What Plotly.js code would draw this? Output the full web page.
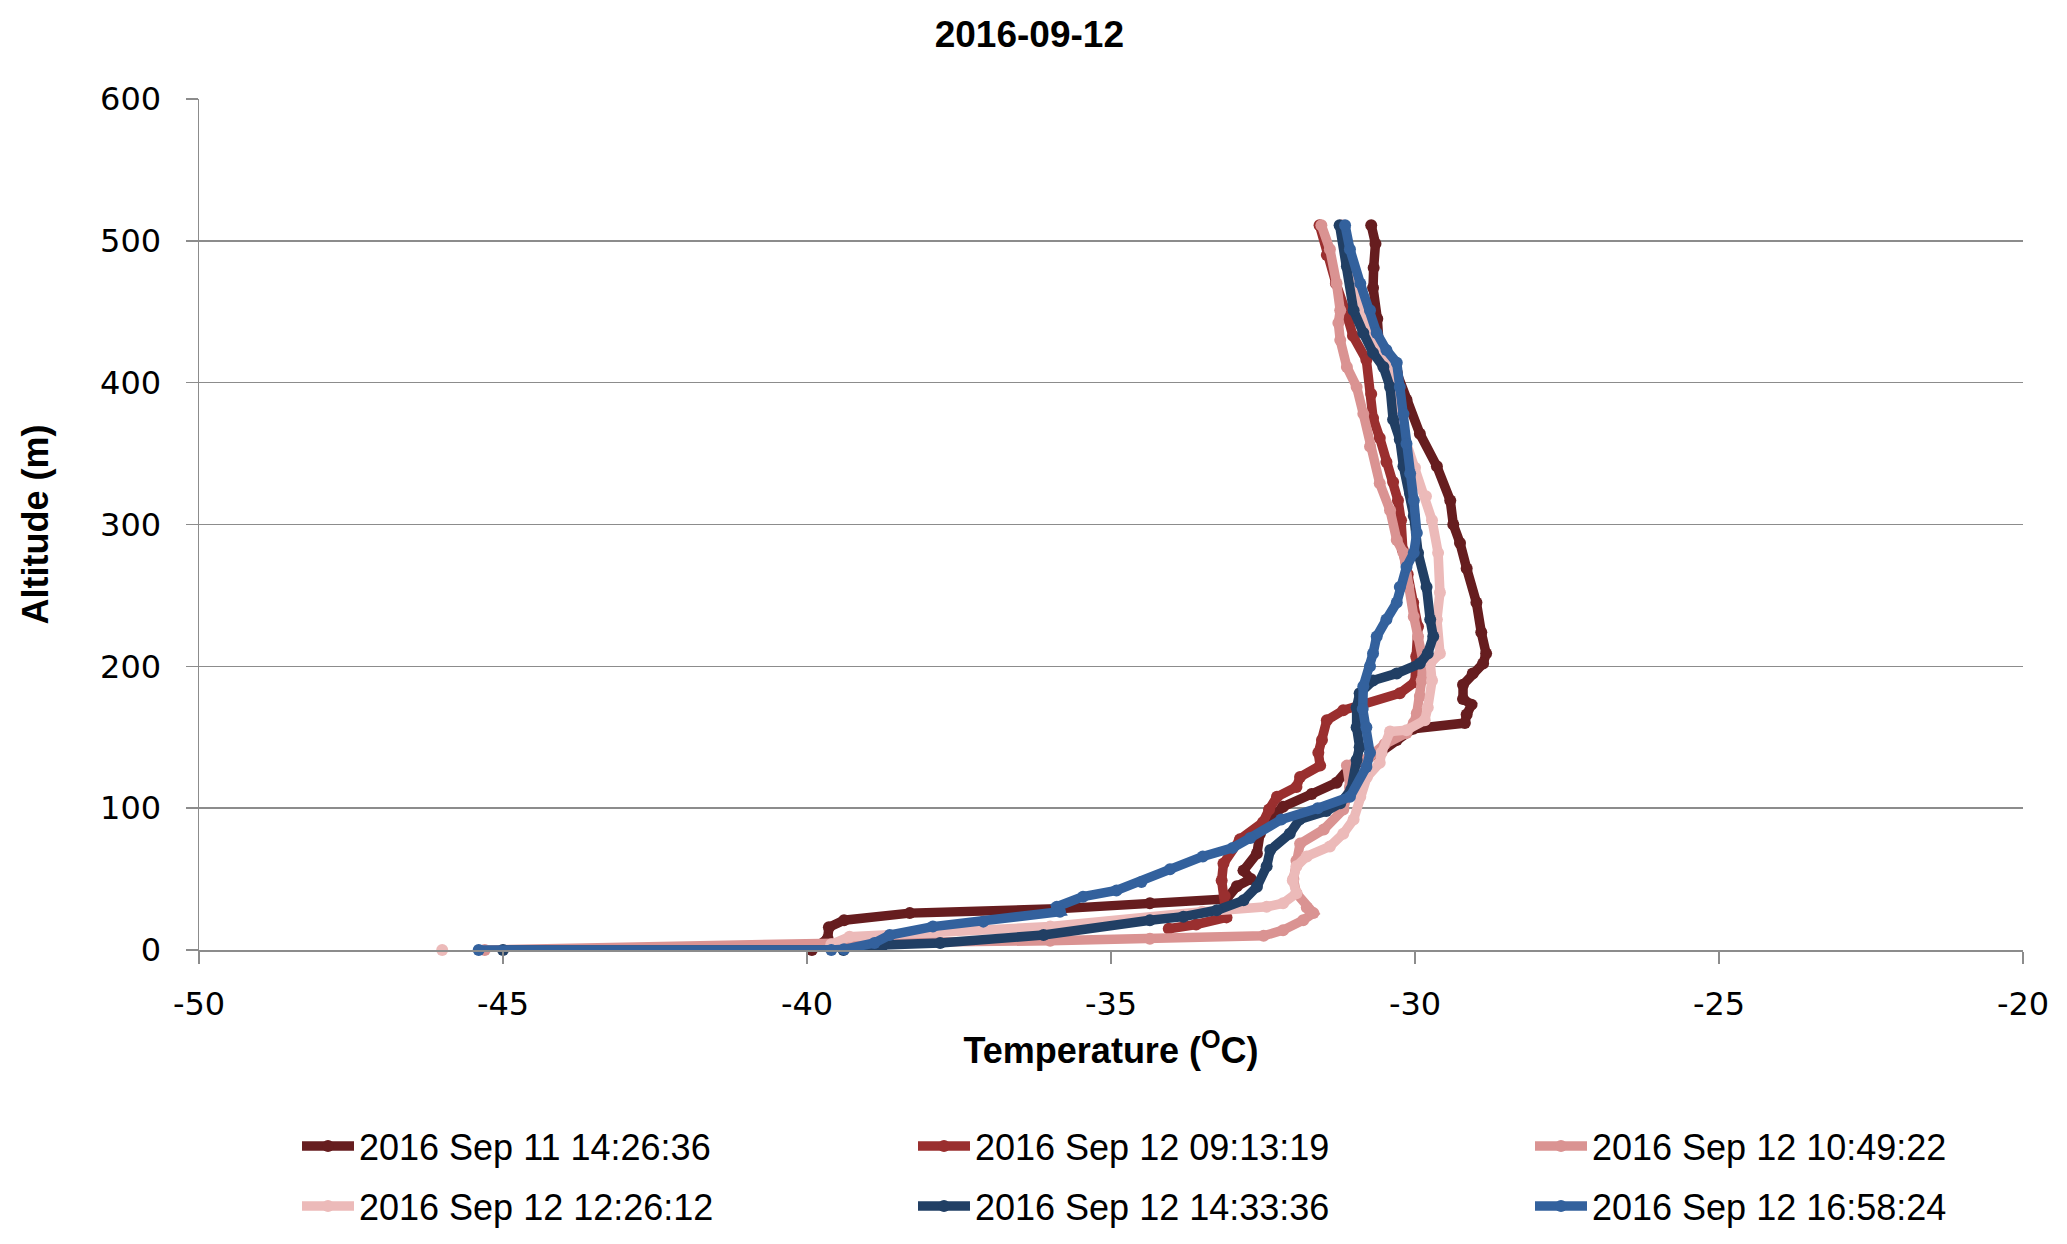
<!DOCTYPE html>
<html>
<head>
<meta charset="utf-8">
<script src="https://cdn.plot.ly/plotly-3.0.1.min.js"></script>
<style>html,body{margin:0;padding:0;background:#fff;}#chart{width:2067px;height:1244px;}</style>
</head>
<body>
<div id="chart"></div>
<script>
// ---- data (temperature °C, altitude m) ----
const seriesNames = ["2016 Sep 11 14:26:36","2016 Sep 12 09:13:19","2016 Sep 12 10:49:22","2016 Sep 12 12:26:12","2016 Sep 12 14:33:36","2016 Sep 12 16:58:24"];

const s1Temp = [-30.72,-30.65,-30.68,-30.69,-30.62,-30.58,-30.30,-30.14,-29.92,-29.64,-29.42,-29.37,-29.26,-29.15,-28.99,-28.91,-28.83,-28.88,-29.05,-29.21,-29.21,-29.07,-29.15,-29.18,-30.03,-30.30,-30.55,-31.07,-31.29,-31.70,-32.17,-32.40,-32.55,-32.60,-32.82,-32.70,-32.93,-33.10,-34.36,-35.89,-38.31,-39.39,-39.64,-39.66,-39.92];
const s1Alt  = [511,498,481,467,445,421,407,388,364,341,317,300,287,269,245,224,209,202,195,187,177,173,166,160,156,148,140,129,118,110,101,92,82,68,56,50,45,36,33,29,26,21,16,8,0];

const s2Temp = [-31.57,-31.45,-31.30,-31.10,-31.02,-30.80,-30.72,-30.69,-30.58,-30.47,-30.36,-30.28,-30.23,-30.20,-30.12,-30.03,-29.95,-29.98,-30.00,-30.25,-30.85,-31.18,-31.45,-31.53,-31.59,-31.56,-31.89,-31.95,-32.27,-32.40,-32.50,-32.88,-33.15,-33.18,-33.13,-33.10,-33.60,-34.05];
const s2Alt  = [511,490,470,445,433,416,392,375,361,344,330,317,303,282,265,245,228,207,189,181,174,169,162,148,139,130,122,115,108,99,90,78,61,49,38,23,18,15];

const s3Temp = [-31.54,-31.40,-31.29,-31.23,-31.26,-31.23,-31.12,-30.96,-30.85,-30.74,-30.58,-30.41,-30.30,-30.19,-30.11,-30.02,-29.95,-29.87,-29.89,-29.92,-29.97,-30.02,-30.14,-30.50,-30.75,-31.12,-31.07,-31.18,-31.50,-31.89,-31.95,-32.00,-31.95,-31.78,-31.67,-31.84,-32.17,-32.49,-34.36,-36.00,-39.30,-45.30];
const s3Alt  = [511,494,470,451,442,430,411,397,378,355,329,310,289,280,256,235,221,204,190,179,167,160,153,145,136,130,115,99,85,75,63,50,40,30,26,21,14,10,8,6.5,5,0];

const s4Temp = [-31.20,-31.10,-30.95,-30.75,-30.45,-30.20,-30.00,-29.82,-29.72,-29.62,-29.59,-29.64,-29.59,-29.75,-29.72,-29.79,-29.84,-30.14,-30.41,-30.55,-30.58,-30.79,-30.90,-31.01,-31.18,-31.40,-31.78,-31.95,-32.01,-31.95,-32.17,-32.44,-33.50,-36.00,-39.30,-39.60,null,-46.00];
const s4Alt  = [511,490,465,440,415,365,340,320,303,280,252,233,209,202,190,171,162,155,154,139,132,122,108,92,82,73,66,59,49,40,33,30.5,27,16.5,9.4,4,null,0];

const s5Temp = [-31.24,-31.12,-31.01,-30.85,-30.69,-30.52,-30.41,-30.36,-30.25,-30.19,-30.08,-30.02,-29.95,-29.81,-29.75,-29.70,-29.79,-29.92,-30.30,-30.69,-30.91,-30.96,-30.96,-30.91,-30.96,-31.05,-31.23,-31.46,-31.90,-32.06,-32.38,-32.44,-32.60,-32.82,-33.26,-33.81,-34.36,-36.11,-37.81,-38.75,-39.40,-45.00];
const s5Alt  = [511,482,451,435,421,411,397,374,360,341,322,306,280,256,233,221,209,202,195,190,181,171,157,143,134,113,103.5,98,92,82,70.5,59,44.6,35,28,23.5,21,10.6,4.9,3.5,0,0];

const s6Temp = [-31.15,-31.07,-30.90,-30.74,-30.63,-30.47,-30.30,-30.25,-30.19,-30.14,-30.08,-30.02,-29.97,-30.02,-30.14,-30.25,-30.30,-30.47,-30.63,-30.69,-30.74,-30.85,-30.86,-30.80,-30.74,-30.80,-31.07,-31.60,-32.20,-32.71,-33.00,-33.49,-34.03,-34.50,-34.91,-35.46,-35.89,-35.84,-37.10,-37.93,-38.64,-38.89,-39.39,-39.60,-45.40];
const s6Alt  = [511,494,470,451,435,423,414,397,378,357,336,317,294,280,270,256,245,233,221,209,200,186,170,157,139,129,108,100,92,79,72,66,57,48,42,37.6,30.5,27,20,16.5,10.6,5,0.5,0,0];

const xTickVals = [-50,-45,-40,-35,-30,-25,-20];
const yTickVals = [0,100,200,300,400,500,600];

const colors = ["#661d1f","#9a2f2f","#da9392","#ecbab9","#213f64","#33619d"];
const temps = [s1Temp,s2Temp,s3Temp,s4Temp,s5Temp,s6Temp];
const alts  = [s1Alt,s2Alt,s3Alt,s4Alt,s5Alt,s6Alt];
const legendIds = ["legend","legend2","legend3","legend4","legend5","legend6"];

const traces = temps.map((t,i)=>({
  type:"scatter", mode:"lines+markers", name:seriesNames[i],
  x:t, y:alts[i], connectgaps:false, cliponaxis:false,
  line:{color:colors[i], width:9.5},
  marker:{color:colors[i], size:12},
  legend: legendIds[i]
}));

const gridGray = "#8c8c8c";
const W = 2067, H = 1244;
// legend anchor positions (container pixels): column left edges and row centres
const legX = [297, 913, 1530];
const legY = [1146, 1206];

const layout = {
  width:W, height:H,
  margin:{l:199, r:44, t:99, b:294},
  paper_bgcolor:"#fff", plot_bgcolor:"#fff",
  title:{text:"<b>2016-09-12</b>", x:0.498, xanchor:"center", y:0.973, yanchor:"middle",
    font:{family:"Liberation Sans, Arial, sans-serif", size:37, color:"#000"}},
  xaxis:{range:[-50,-20], tickvals:xTickVals, ticktext:xTickVals.map(String),
    showgrid:false, zeroline:false, showline:true, linecolor:gridGray, linewidth:1.5,
    ticks:"outside", ticklen:12, tickwidth:1.5, tickcolor:gridGray, ticklabelstandoff:13,
    tickfont:{family:"DejaVu Sans, sans-serif", size:32, color:"#000"},
    title:{text:"<b>Temperature (<sup>O</sup>C)</b>", standoff:16,
      font:{family:"Liberation Sans, Arial, sans-serif", size:36, color:"#000"}}},
  yaxis:{range:[0,600], tickvals:yTickVals, ticktext:yTickVals.map(String),
    showgrid:true, gridcolor:gridGray, gridwidth:1.5, zeroline:false,
    showline:true, linecolor:gridGray, linewidth:1.5,
    ticks:"outside", ticklen:12, tickwidth:1.5, tickcolor:gridGray, ticklabelstandoff:18,
    tickfont:{family:"DejaVu Sans, sans-serif", size:32, color:"#000"},
    title:{text:"<b>Altitude (m)</b>", standoff:40,
      font:{family:"Liberation Sans, Arial, sans-serif", size:36, color:"#000"}}},
  showlegend:true
};

legendIds.forEach((id,i)=>{
  layout[id] = {
    orientation:"h", xref:"container", yref:"container",
    x: legX[i%3]/W, y: 1 - legY[Math.floor(i/3)]/H,
    xanchor:"left", yanchor:"middle",
    font:{family:"Liberation Sans, Arial, sans-serif", size:36, color:"#000"},
    bgcolor:"rgba(0,0,0,0)", itemwidth:52
  };
});

Plotly.newPlot("chart", traces, layout, {displayModeBar:false, staticPlot:true});
</script>
</body>
</html>
